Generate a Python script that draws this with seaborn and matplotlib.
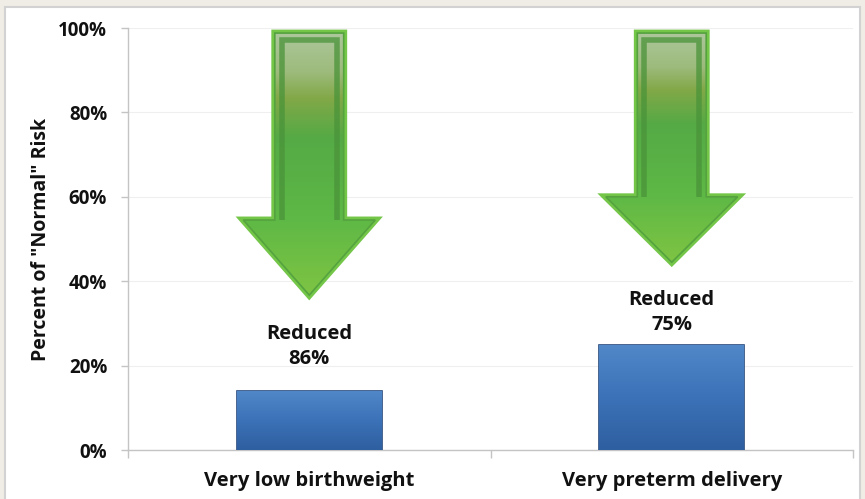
import numpy as np
import pandas as pd
import seaborn as sns
import matplotlib.pyplot as plt
from matplotlib.patches import Polygon, Rectangle
from matplotlib.colors import LinearSegmentedColormap

# Data
categories = ["Very low birthweight", "Very preterm delivery"]
risk_pct = [14, 25]                       # percent of "normal" risk
reduced_labels = ["Reduced\n86%", "Reduced\n75%"]
y_ticks = [0, 20, 40, 60, 80, 100]
y_tick_labels = ["0%", "20%", "40%", "60%", "80%", "100%"]

# Decoration geometry (percent-axis units above each bar)
label_gap = [5.3, 2.3]
arrow_gap = [22.7, 19.5]
arrow_head_len = [17.8, 15.5]
arrow_top = 98.8

sns.set_theme(style="white")
plt.rcParams["font.family"] = ["Open Sans", "DejaVu Sans"]
plt.rcParams["font.weight"] = "bold"

fig = plt.figure(figsize=(8.65, 4.99), dpi=100, facecolor="#efede5")
fig.patches.append(Rectangle((5 / 865, -0.01), 855 / 865, 1 - 7 / 499 + 0.01,
                             transform=fig.transFigure, facecolor="white",
                             edgecolor="#d2d2d2", linewidth=1.5, zorder=-5))
ax = fig.add_axes([128 / 865, 1 - 450 / 499, 725 / 865, 422 / 499])
ax.set_facecolor("none")
ax.set_zorder(2)

df = pd.DataFrame({"category": categories, "risk": risk_pct})
sns.barplot(data=df, x="category", y="risk", ax=ax, width=0.4,
            color="#3b6fb4", edgecolor="#27497c", linewidth=1.2, zorder=3)

# Vertical blue gradient on the bars
bar_cmap = LinearSegmentedColormap.from_list(
    "bar", ["#5088c9", "#3c72b8", "#2e5fa0"])
grad = np.linspace(0, 1, 256).reshape(-1, 1)
for patch in list(ax.patches):
    x0, y0 = patch.get_x(), patch.get_y()
    w, h = patch.get_width(), patch.get_height()
    im = ax.imshow(grad, cmap=bar_cmap, aspect="auto", origin="upper",
                   extent=[x0, x0 + w, y0, y0 + h], zorder=3.5)
    im.set_clip_path(patch)

# Green "reduction" arrows
arrow_cmap = LinearSegmentedColormap.from_list(
    "arrow", [(0.0, "#adc79c"), (0.15, "#9dbb7c"), (0.25, "#82a848"),
              (0.4, "#55aa45"), (0.7, "#5db846"), (1.0, "#7ec443")])
shaft_half = 0.095
head_half = 0.182
inset_x = 0.019
inset_y = 1.6
for i, v in enumerate(risk_pct):
    tip = v + arrow_gap[i]
    shoulder = tip + arrow_head_len[i]
    pts = [(i - shaft_half, arrow_top), (i + shaft_half, arrow_top),
           (i + shaft_half, shoulder), (i + head_half, shoulder),
           (i, tip), (i - head_half, shoulder), (i - shaft_half, shoulder)]
    glow = Polygon(pts, closed=True, facecolor="#6fc046",
                   edgecolor="#74c649", linewidth=5, joinstyle="miter", zorder=4)
    ax.add_patch(glow)
    body = Polygon(pts, closed=True, facecolor="none",
                   edgecolor="#55a33f", linewidth=1.2, joinstyle="miter", zorder=6)
    ax.add_patch(body)
    im = ax.imshow(grad, cmap=arrow_cmap, aspect="auto", origin="upper",
                   extent=[i - head_half, i + head_half, tip, arrow_top], zorder=5)
    im.set_clip_path(glow)
    # darker inner band along the shaft
    band = [(i - shaft_half + inset_x, shoulder),
            (i - shaft_half + inset_x, arrow_top - inset_y),
            (i + shaft_half - inset_x, arrow_top - inset_y),
            (i + shaft_half - inset_x, shoulder)]
    ax.plot([p[0] for p in band], [p[1] for p in band], color="#4a9339",
            linewidth=4, alpha=0.75, solid_joinstyle="miter",
            solid_capstyle="butt", zorder=5.5)
    ax.text(i, v + label_gap[i], reduced_labels[i], ha="center", va="bottom",
            fontsize=14.5, fontweight="bold", color="#111111",
            linespacing=1.3, zorder=7)

ax.set_xlim(-0.5, 1.5)
ax.set_ylim(0, 100)
ax.set_yticks(y_ticks)
ax.set_yticklabels(y_tick_labels, fontsize=13.5, fontweight="bold", color="#111111")
ax.set_xticks([0, 1])
ax.set_xticklabels(categories, fontsize=14.5, fontweight="bold", color="#111111")
ax.set_xticks([-0.5, 0.5, 1.5], minor=True)
ax.tick_params(axis="x", which="major", length=0, pad=15)
ax.tick_params(axis="x", which="minor", length=6, width=1, color="#c4c4c4",
               direction="out", bottom=True)
ax.tick_params(axis="y", length=5, width=1, color="#c4c4c4", direction="out",
               pad=10, left=True)
ax.set_xlabel("")
ax.set_ylabel('Percent of "Normal" Risk', fontsize=14, fontweight="bold",
              color="#111111", labelpad=5)
ax.yaxis.grid(True, color="#efefef", linewidth=0.8, zorder=0)
ax.set_axisbelow(True)
for s in ["top", "right"]:
    ax.spines[s].set_visible(False)
for s in ["left", "bottom"]:
    ax.spines[s].set_color("#c4c4c4")
    ax.spines[s].set_linewidth(1)

fig.savefig("out.png", dpi=100, facecolor=fig.get_facecolor())
